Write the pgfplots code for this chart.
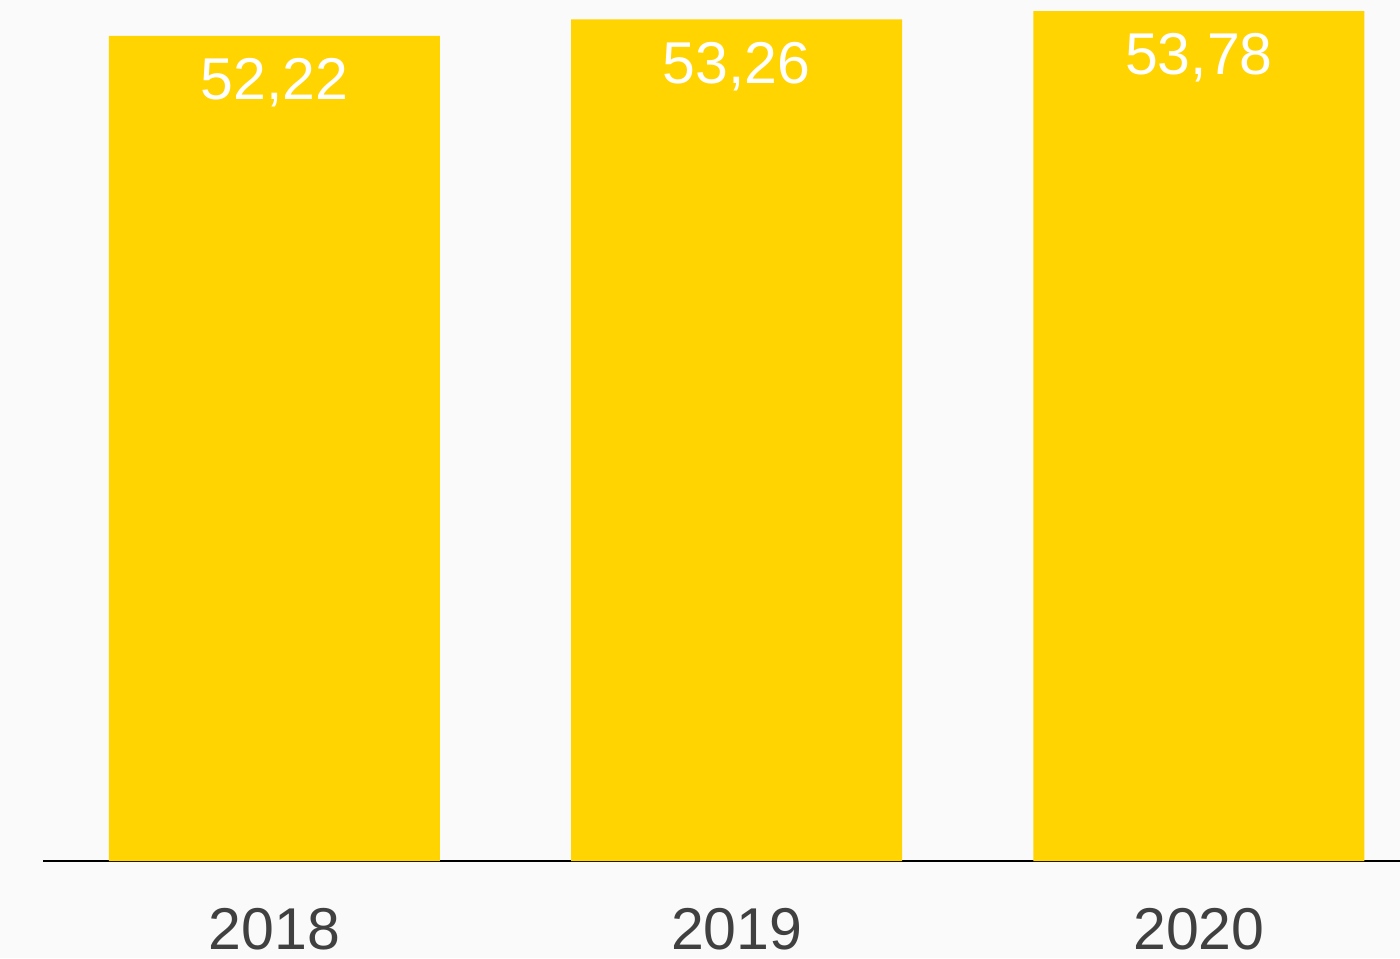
\documentclass[border=0pt]{standalone}
\usepackage{pgfplots}
\pgfplotsset{compat=1.18}
\usepackage{fontspec}
\setmainfont{Liberation Sans}
\definecolor{bg}{HTML}{FAFAFA}
\definecolor{barY}{HTML}{FFD400}
\definecolor{tickgray}{HTML}{404040}
\begin{document}
\begin{tikzpicture}
\fill[bg] (-21.5pt,-48.5pt) rectangle (678.5pt,430.5pt);
\path[use as bounding box] (-21.5pt,-48.5pt) rectangle (678.5pt,430.5pt);
\begin{axis}[
  at={(0pt,0pt)}, anchor=south west,
  scale only axis, width=678.5pt, height=430.5pt,
  xmin=-0.5008, xmax=2.435, ymin=0, ymax=54.49,
  axis x line*=bottom, axis y line=none,
  x axis line style={line width=1.1pt, black, -},
  xtick={0,1,2}, xticklabels={2018,2019,2020},
  major tick length=0pt,
  xticklabel style={font=\fontsize{29.5}{31}\selectfont, text=tickgray, anchor=north, inner sep=0pt, yshift=-23.5pt},
  ytick=\empty,
  clip=false,
  /pgf/number format/assume math mode=true,
  nodes near coords={\pgfmathprintnumber[fixed, fixed zerofill, precision=2, use comma, assume math mode=true]{\pgfplotspointmeta}},
  every node near coord/.append style={font=\fontsize{29.5}{31}\selectfont, text=white, anchor=north, inner sep=0pt, yshift=-11pt},
]
\addplot[ybar, bar width=165.5pt, fill=barY, draw=none] coordinates {(0,52.22) (1,53.26) (2,53.78)};
\end{axis}
\end{tikzpicture}
\end{document}
